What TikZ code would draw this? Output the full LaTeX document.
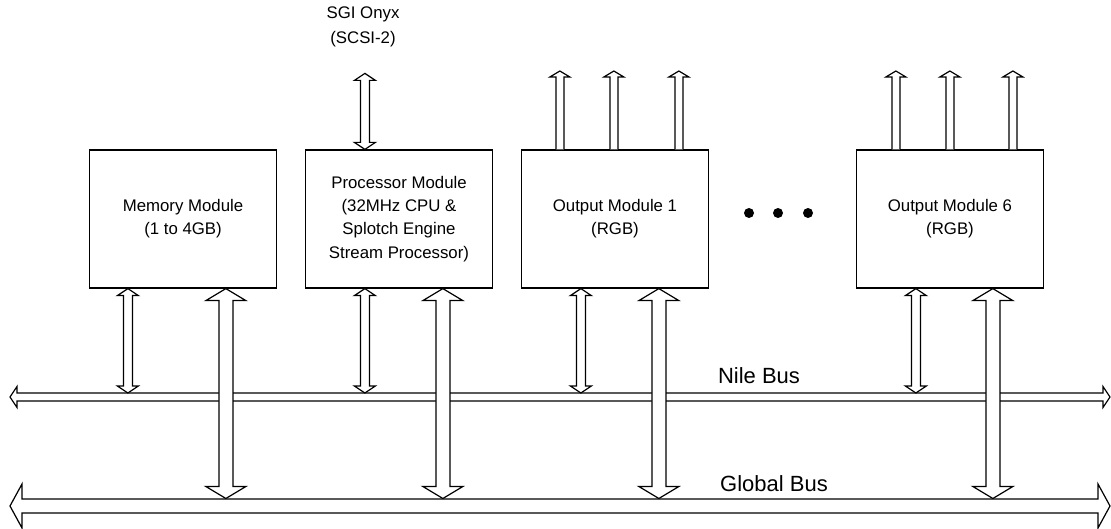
\documentclass[tikz,border=0pt]{standalone}
\usepackage{fontspec}
\setmainfont{Liberation Sans}
\usetikzlibrary{calc}
% vertical hollow double arrow, #1 top point, #2 bottom point, #3 half shaft, #4 half head, #5 head length
\newcommand\vdouble[5]{%
  \draw[arrowbody] let \p1=(#1), \p2=(#2) in
  (\x1,\y1) -- (\x1+#4,\y1-#5) -- (\x1+#3,\y1-#5) -- (\x1+#3,\y2+#5) -- (\x1+#4,\y2+#5)
  -- (\x1,\y2) -- (\x1-#4,\y2+#5) -- (\x1-#3,\y2+#5) -- (\x1-#3,\y1-#5) -- (\x1-#4,\y1-#5) -- cycle;}
% horizontal hollow double arrow, #1 left tip, #2 right tip
\newcommand\hdouble[5]{%
  \draw[arrowbody] let \p1=(#1), \p2=(#2) in
  (\x1,\y1) -- (\x1+#5,\y1+#4) -- (\x1+#5,\y1+#3) -- (\x2-#5,\y1+#3) -- (\x2-#5,\y1+#4)
  -- (\x2,\y1) -- (\x2-#5,\y1-#4) -- (\x2-#5,\y1-#3) -- (\x1+#5,\y1-#3) -- (\x1+#5,\y1-#4) -- cycle;}
% single hollow up arrow, #1 base point, #2 tip
\newcommand\vsingle[5]{%
  \draw[arrowbody] let \p1=(#1), \p2=(#2) in
  (\x1-#3,\y1) -- (\x1-#3,\y2-#5) -- (\x1-#4,\y2-#5) -- (\x1,\y2) -- (\x1+#4,\y2-#5)
  -- (\x1+#3,\y2-#5) -- (\x1+#3,\y1);}
\newcommand\smallv[2]{\vdouble{#1}{#2}{4.5pt}{10.5pt}{7pt}}
\newcommand\bigv[2]{\vdouble{#1}{#2}{7pt}{20pt}{12pt}}
\newcommand\upv[2]{\vsingle{#1}{#2}{4pt}{10pt}{6pt}}
\tikzset{
  arrowbody/.style={draw=black, fill=white, line width=1.2pt, line join=miter},
  module/.style={draw=black, fill=white, line width=1.2pt, minimum width=187pt,
    minimum height=138pt, align=center, inner sep=0pt,
    font=\fontsize{16.8}{23.3}\selectfont},
  buslabel/.style={anchor=base, inner sep=0pt, font=\fontsize{22}{26}\selectfont},
  smalltext/.style={align=center, inner sep=0pt, font=\fontsize{16.8}{24.5}\selectfont},
  dot/.style={fill=black}
}
\begin{document}
\begin{tikzpicture}[x=1pt,y=-1pt]
\useasboundingbox (0,0) rectangle (1111,529);

% modules
\node[module] (mem) at (183,219) {Memory Module\\(1 to 4GB)};
\node[module] (proc) at (399,219) {Processor Module\\(32MHz CPU \&\\Splotch Engine\\Stream Processor)};
\node[module] (out1) at (615,219) {Output Module 1\\(RGB)};
\node[module] (out6) at (950,219) {Output Module 6\\(RGB)};

% dots
\fill[dot] (749,213) circle (5pt);
\fill[dot] (778,213) circle (5pt);
\fill[dot] (808,213) circle (5pt);

% SGI Onyx
\node[smalltext] (onyx) at (363,27) {SGI Onyx\\(SCSI-2)};

% reference rows
\coordinate (niletop) at (0,393);
\coordinate (globtop) at (0,498.5);
\coordinate (toprow) at (0,71);
\coordinate (nileL) at (10,397);
\coordinate (nileR) at (1110,397);
\coordinate (globL) at (10,506);
\coordinate (globR) at (1110,506);

% attachment points
\coordinate (mS) at ([xshift=39pt]mem.south west);
\coordinate (mB) at ([xshift=137pt]mem.south west);
\coordinate (pS) at ([xshift=60pt]proc.south west);
\coordinate (pB) at ([xshift=138pt]proc.south west);
\coordinate (pT) at ([xshift=60pt]proc.north west);
\coordinate (onyxend) at ([yshift=76pt]pT);
\coordinate (aS) at ([xshift=60pt]out1.south west);
\coordinate (aB) at ([xshift=138pt]out1.south west);
\coordinate (bS) at ([xshift=60pt]out6.south west);
\coordinate (bB) at ([xshift=137pt]out6.south west);
\coordinate (a1) at ([xshift=39pt]out1.north west);
\coordinate (a2) at ([xshift=93pt]out1.north west);
\coordinate (a3) at ([xshift=158pt]out1.north west);
\coordinate (b1) at ([xshift=40pt]out6.north west);
\coordinate (b2) at ([xshift=94pt]out6.north west);
\coordinate (b3) at ([xshift=157pt]out6.north west);

% processor input
\smallv{onyxend}{pT}

% output arrows
\upv{a1}{a1 |- toprow}
\upv{a2}{a2 |- toprow}
\upv{a3}{a3 |- toprow}
\upv{b1}{b1 |- toprow}
\upv{b2}{b2 |- toprow}
\upv{b3}{b3 |- toprow}

% Nile bus
\hdouble{nileL}{nileR}{4pt}{10.5pt}{7pt}
\node[buslabel] (nilelbl) at (759,383) {Nile Bus};
\smallv{mS}{mS |- niletop}
\smallv{pS}{pS |- niletop}
\smallv{aS}{aS |- niletop}
\smallv{bS}{bS |- niletop}

% Global bus
\hdouble{globL}{globR}{7pt}{22pt}{12pt}
\node[buslabel] (globlbl) at (774,491) {Global Bus};
\bigv{mB}{mB |- globtop}
\bigv{pB}{pB |- globtop}
\bigv{aB}{aB |- globtop}
\bigv{bB}{bB |- globtop}
\end{tikzpicture}
\end{document}
